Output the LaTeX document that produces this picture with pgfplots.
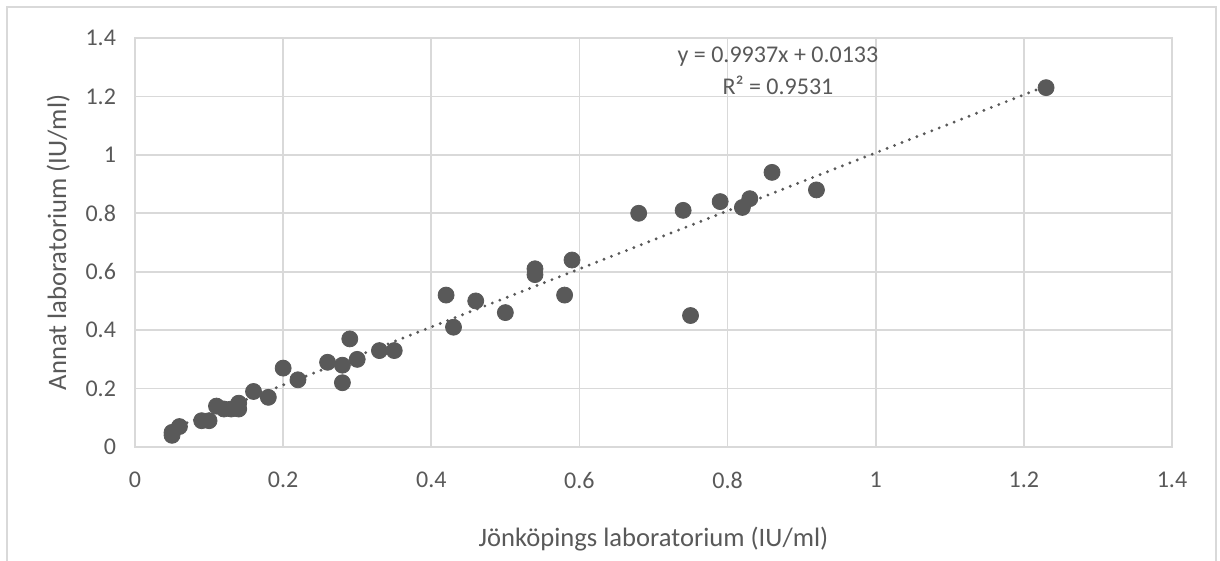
\documentclass[border=0pt]{standalone}
\usepackage{fontspec}
\setmainfont{Carlito}
\usepackage{pgfplots}
\pgfplotsset{compat=1.18}
\definecolor{txt}{HTML}{595959}
\definecolor{grd}{HTML}{D9D9D9}
\definecolor{dots}{HTML}{595959}

\begin{document}
\begin{tikzpicture}
\begin{axis}[
    name=ax,
    scale only axis,
    width=518.5pt,
    height=204.5pt,
    xmin=0, xmax=1.4,
    ymin=0, ymax=1.4,
    xtick={0,0.2,...,1.4},
    ytick={0,0.2,...,1.4},
    xticklabels={0,0.2,0.4,0.6,0.8,1,1.2,1.4},
    yticklabels={0,0.2,0.4,0.6,0.8,1,1.2,1.4},
    grid=major,
    major grid style={grd, line width=0.9pt},
    axis line style={grd, line width=0.9pt},
    major tick length=0pt,
    tick label style={font=\fontsize{12}{14}\selectfont, text=txt},
    xticklabel style={yshift=-9pt},
    yticklabel style={xshift=-6pt},
    xlabel={Jönköpings laboratorium (IU/ml)},
    ylabel={Annat laboratorium (IU/ml)},
    label style={font=\fontsize{13.3}{16}\selectfont, text=txt},
    xlabel style={at={(axis description cs:0.5,0)}, anchor=center, yshift=-46pt},
    ylabel style={at={(axis description cs:-0.074,0.5)}, anchor=center},
    clip=false,
]
\addplot[only marks, mark=*, mark size=4pt, mark options={fill=dots, draw=dots}] coordinates {
    (0.05,0.05) (0.05,0.04) (0.06,0.07) (0.09,0.09) (0.10,0.09)
    (0.11,0.14) (0.12,0.13) (0.13,0.13) (0.14,0.15) (0.14,0.13)
    (0.16,0.19) (0.18,0.17) (0.20,0.27) (0.22,0.23) (0.26,0.29)
    (0.28,0.28) (0.28,0.22) (0.29,0.37) (0.30,0.30) (0.33,0.33)
    (0.35,0.33) (0.42,0.52) (0.43,0.41) (0.46,0.50) (0.50,0.46)
    (0.54,0.61) (0.54,0.59) (0.58,0.52) (0.59,0.64) (0.68,0.80)
    (0.74,0.81) (0.75,0.45) (0.79,0.84) (0.82,0.82) (0.83,0.85)
    (0.86,0.94) (0.92,0.88) (1.23,1.23)
};
% linear trendline y = 0.9937x + 0.0133 over the data range
\addplot[dots, line width=1.6pt, dash pattern=on 0pt off 4pt, line cap=round] coordinates {
    (0.05,0.0630) (1.23,1.2356)
};
\node[font=\fontsize{12}{14}\selectfont, text=txt] at (axis cs:0.868,1.335) {y = 0.9937x + 0.0133};
\node[font=\fontsize{12}{14}\selectfont, text=txt] at (axis cs:0.868,1.239) {R² = 0.9531};
\end{axis}
% chart-area frame, open at the bottom where the image is cropped
\draw[grd, line width=0.8pt] ([xshift=-64pt,yshift=-57pt]ax.south west) |- ([xshift=22pt,yshift=15.5pt]ax.north east) -- ([xshift=22pt,yshift=-57pt]ax.south east);
\pgfresetboundingbox
\useasboundingbox ([xshift=-67.5pt,yshift=-57pt]ax.south west) rectangle ([xshift=24pt,yshift=19pt]ax.north east);
\end{tikzpicture}
\end{document}
